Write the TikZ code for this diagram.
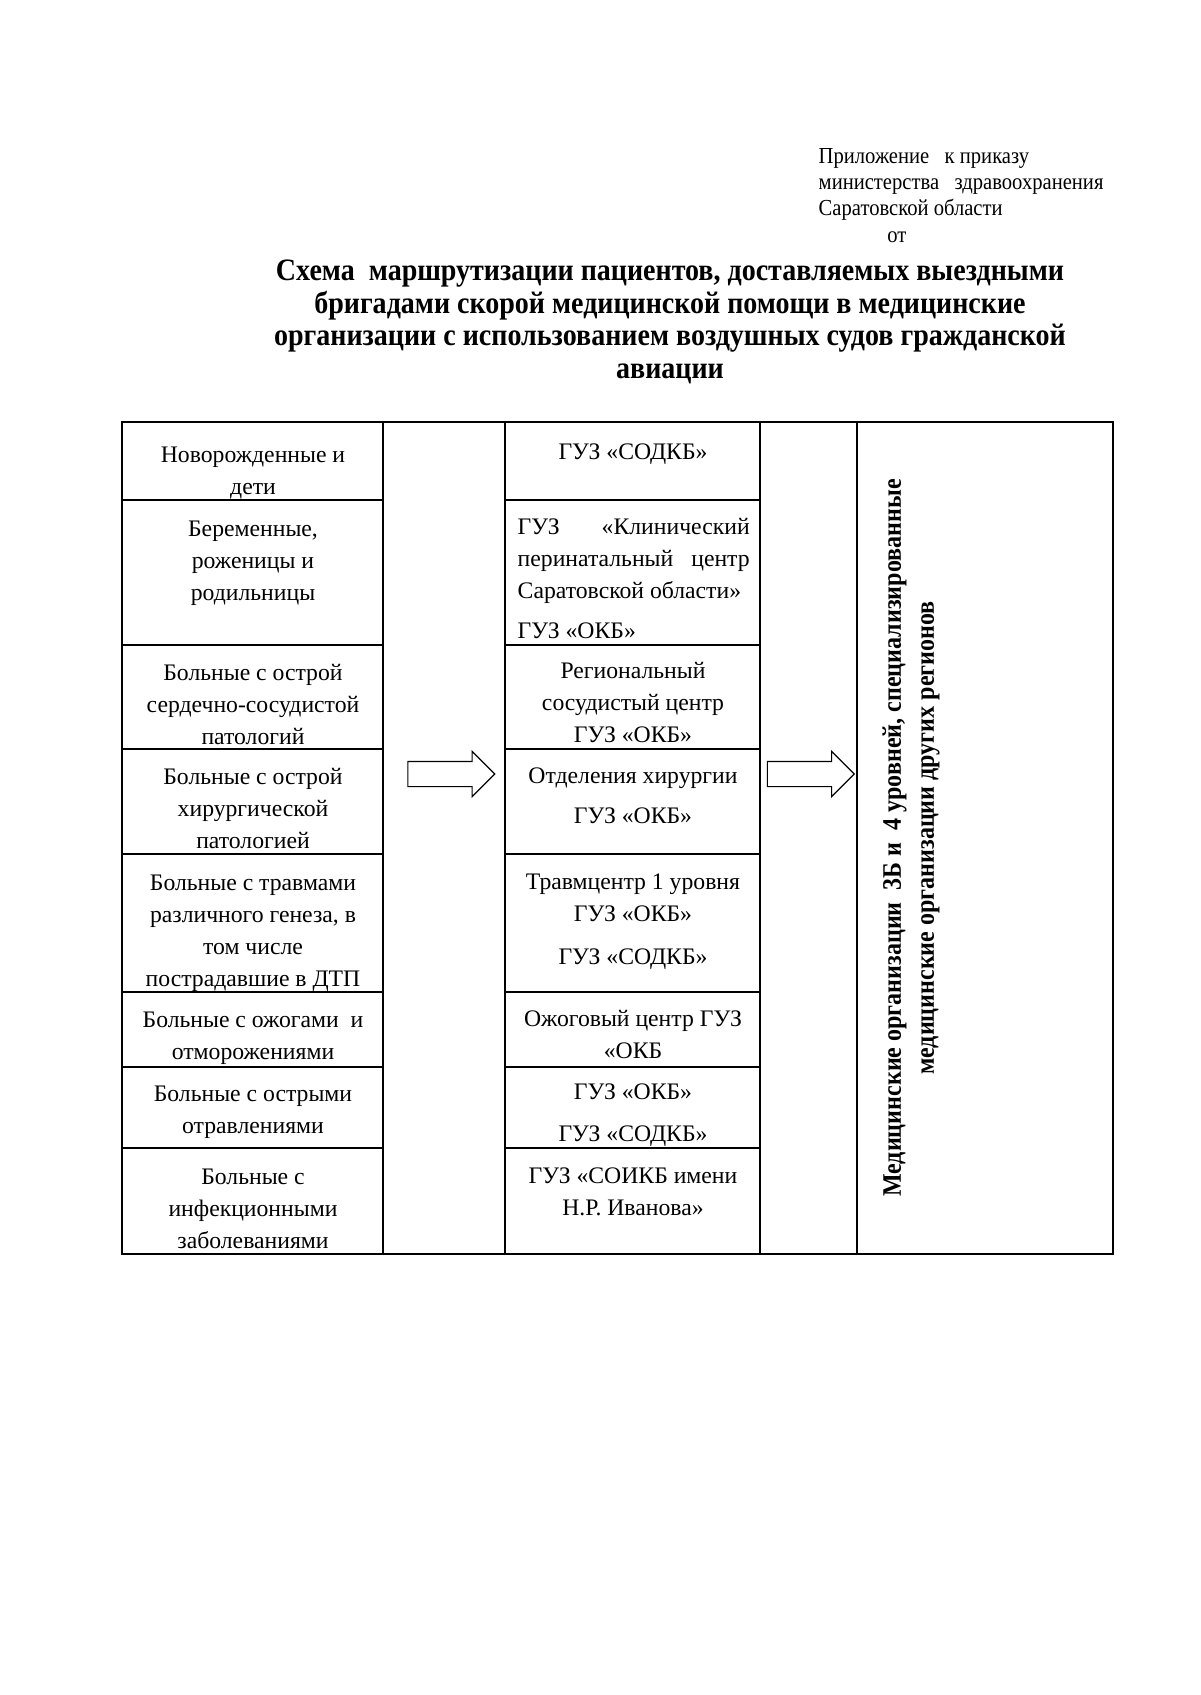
\documentclass[tikz,border=0pt]{standalone}
\usepackage{fontspec}
\setmainfont{Liberation Serif}
\newfontfamily\condfont[FakeStretch=0.9]{Liberation Serif}
\usetikzlibrary{shapes.arrows}
\newcommand\cellfont{\fontsize{11.8}{15.9}\selectfont}
\begin{document}
\begin{tikzpicture}[x=0.175mm,y=-0.175mm,line width=0.7pt,every node/.style={inner sep=0pt},
cat/.style={anchor=north,align=center,font=\cellfont},org/.style={anchor=north,align=center,font=\cellfont},
blk/.style={draw,single arrow,inner xsep=0pt,inner ysep=2.1mm,single arrow head extend=1.75mm,single arrow tip angle=90,minimum height=15.2mm,line width=0.6pt}]
\useasboundingbox (0,0) rectangle (1200,1695);
\node[anchor=north west,align=left,font=\condfont\fontsize{11.4}{13}\selectfont] (pril) at (818,148) {Приложение\ \ \ к приказу\\министерства\ \ \ здравоохранения\\Саратовской области\\\hspace{12mm}от};
\node[align=center,font=\condfont\fontsize{15.5}{16.2}\selectfont\bfseries] (title) at (670,322) {Схема\ \ маршрутизации пациентов, доставляемых выездными\\бригадами скорой медицинской помощи в медицинские\\организации с использованием воздушных судов гражданской\\авиации};
\draw (122,422) rectangle (1113,1254);
\draw (383,422) -- (383,1254) (505,422) -- (505,1254) (760,422) -- (760,1254) (857,422) -- (857,1254);
\foreach \y in {500,645,749,854,992,1067,1148} \draw (122,\y) -- (383,\y) (505,\y) -- (760,\y);
\node[cat] (cat1) at (253,446) {Новорожденные и\\дети};
\node[cat] (cat2) at (253,520) {Беременные,\\роженицы и\\родильницы};
\node[cat] (cat3) at (253,664) {Больные с острой\\сердечно-сосудистой\\патологий};
\node[cat] (cat4) at (253,768) {Больные с острой\\хирургической\\патологией};
\node[cat] (cat5) at (253,874) {Больные с травмами\\различного генеза, в\\том числе\\пострадавшие в ДТП};
\node[cat] (cat6) at (253,1011) {Больные с ожогами\ \ и\\отморожениями};
\node[cat] (cat7) at (253,1085) {Больные с острыми\\отравлениями};
\node[cat] (cat8) at (253,1168) {Больные с\\инфекционными\\заболеваниями};
\node[org] (org1) at (633,443) {ГУЗ «СОДКБ»};
\node[anchor=north west,align=left,font=\cellfont] (org2) at (517,518) {\makebox[40.6mm][l]{ГУЗ\hfill«Клинический}\\\makebox[40.6mm][l]{перинатальный\hfill центр}\\Саратовской области»\\[1.3mm]ГУЗ «ОКБ»};
\node[org] (org3) at (633,662) {Региональный\\сосудистый центр\\ГУЗ «ОКБ»};
\node[org] (org4) at (633,767) {Отделения хирургии\\[1.5mm]ГУЗ «ОКБ»};
\node[org] (org5) at (633,873) {Травмцентр 1 уровня\\ГУЗ «ОКБ»\\[2mm]ГУЗ «СОДКБ»};
\node[org] (org6) at (633,1010) {Ожоговый центр ГУЗ\\«ОКБ};
\node[org] (org7) at (633,1083) {ГУЗ «ОКБ»\\[1.7mm]ГУЗ «СОДКБ»};
\node[org] (org8) at (633,1167) {ГУЗ «СОИКБ имени\\Н.Р. Иванова»};
\node[blk] (ar1) at (445,774) {}; \node[blk] (ar2) at (804.5,774) {};
\node[rotate=90,align=center,font=\condfont\fontsize{13.3}{16.5}\selectfont\bfseries] (medorg) at (911,838) {Медицинские организации\ \ 3Б и\ \ 4 уровней, специализированные\\медицинские организации других регионов};
\end{tikzpicture}
\end{document}
